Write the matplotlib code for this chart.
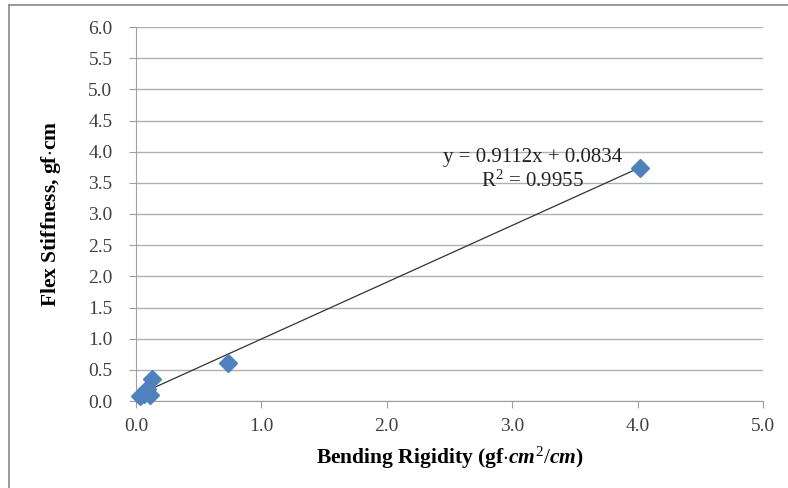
import matplotlib
matplotlib.use('Agg')
from matplotlib import pyplot as plt
from matplotlib.lines import Line2D

# measured points (bending rigidity vs flex stiffness)
bending = [0.03, 0.06, 0.09, 0.11, 0.13, 0.73, 4.02]
flex = [0.08, 0.12, 0.20, 0.09, 0.36, 0.61, 3.74]

# Excel linear trendline
slope = 0.9112
intercept = 0.0834
eq_text = 'y = 0.9112x + 0.0834'
r2_text = 'R$^2$ = 0.9955'

x_ticks = [0.0, 1.0, 2.0, 3.0, 4.0, 5.0]
y_ticks = [0.0, 0.5, 1.0, 1.5, 2.0, 2.5, 3.0, 3.5, 4.0, 4.5, 5.0, 5.5, 6.0]

plt.rcParams['font.family'] = ['Liberation Serif', 'DejaVu Serif']
plt.rcParams['mathtext.fontset'] = 'custom'
plt.rcParams['mathtext.rm'] = 'Liberation Serif'
plt.rcParams['mathtext.it'] = 'Liberation Serif:italic:bold'

fig = plt.figure(figsize=(7.88, 4.88), dpi=100)
ax = fig.add_axes([136 / 788, 1 - 401 / 488, 627 / 788, 374 / 488])

# outer chart frame
fig.add_artist(Line2D([9 / 788, 9 / 788], [0, 1 - 5 / 488], color='#888888', lw=1.2))
fig.add_artist(Line2D([9 / 788, 1], [1 - 5 / 488, 1 - 5 / 488], color='#888888', lw=1.2))

ax.set_xlim(0, 5)
ax.set_ylim(0, 6)
ax.set_xticks(x_ticks)
ax.set_yticks(y_ticks)
ax.set_xticklabels(['%.1f' % v for v in x_ticks])
ax.set_yticklabels(['%.1f' % v for v in y_ticks])
ax.yaxis.grid(True, color='#b0b0b0', lw=1)
ax.set_axisbelow(True)
for s in ['top', 'right']:
    ax.spines[s].set_visible(False)
for s in ['left', 'bottom']:
    ax.spines[s].set_color('#a0a0a0')
ax.tick_params(axis='both', colors='#a0a0a0', labelcolor='#404040', labelsize=14, length=5)
ax.tick_params(axis='y', pad=12)
ax.tick_params(axis='x', pad=7)

xs = [min(bending), max(bending)]
ax.plot(xs, [slope * v + intercept for v in xs], color='#333333', lw=0.9, zorder=3)
ax.plot(bending, flex, 'D', color='#4f81bd', markersize=9, zorder=4, clip_on=False)

ax.text(3.16, 3.90, eq_text, ha='center', va='center', fontsize=15, color='#222222')
ax.text(3.16, 3.53, r2_text, ha='center', va='center', fontsize=15, color='#222222')

ax.set_xlabel('Bending Rigidity (gf$\\cdot$$cm^2/cm$)', fontsize=15.5, fontweight='bold', labelpad=7)
ax.set_ylabel('Flex Stiffness, gf$\\cdot$cm', fontsize=15.5, fontweight='bold', labelpad=18)

fig.savefig('out.png', dpi=100)
